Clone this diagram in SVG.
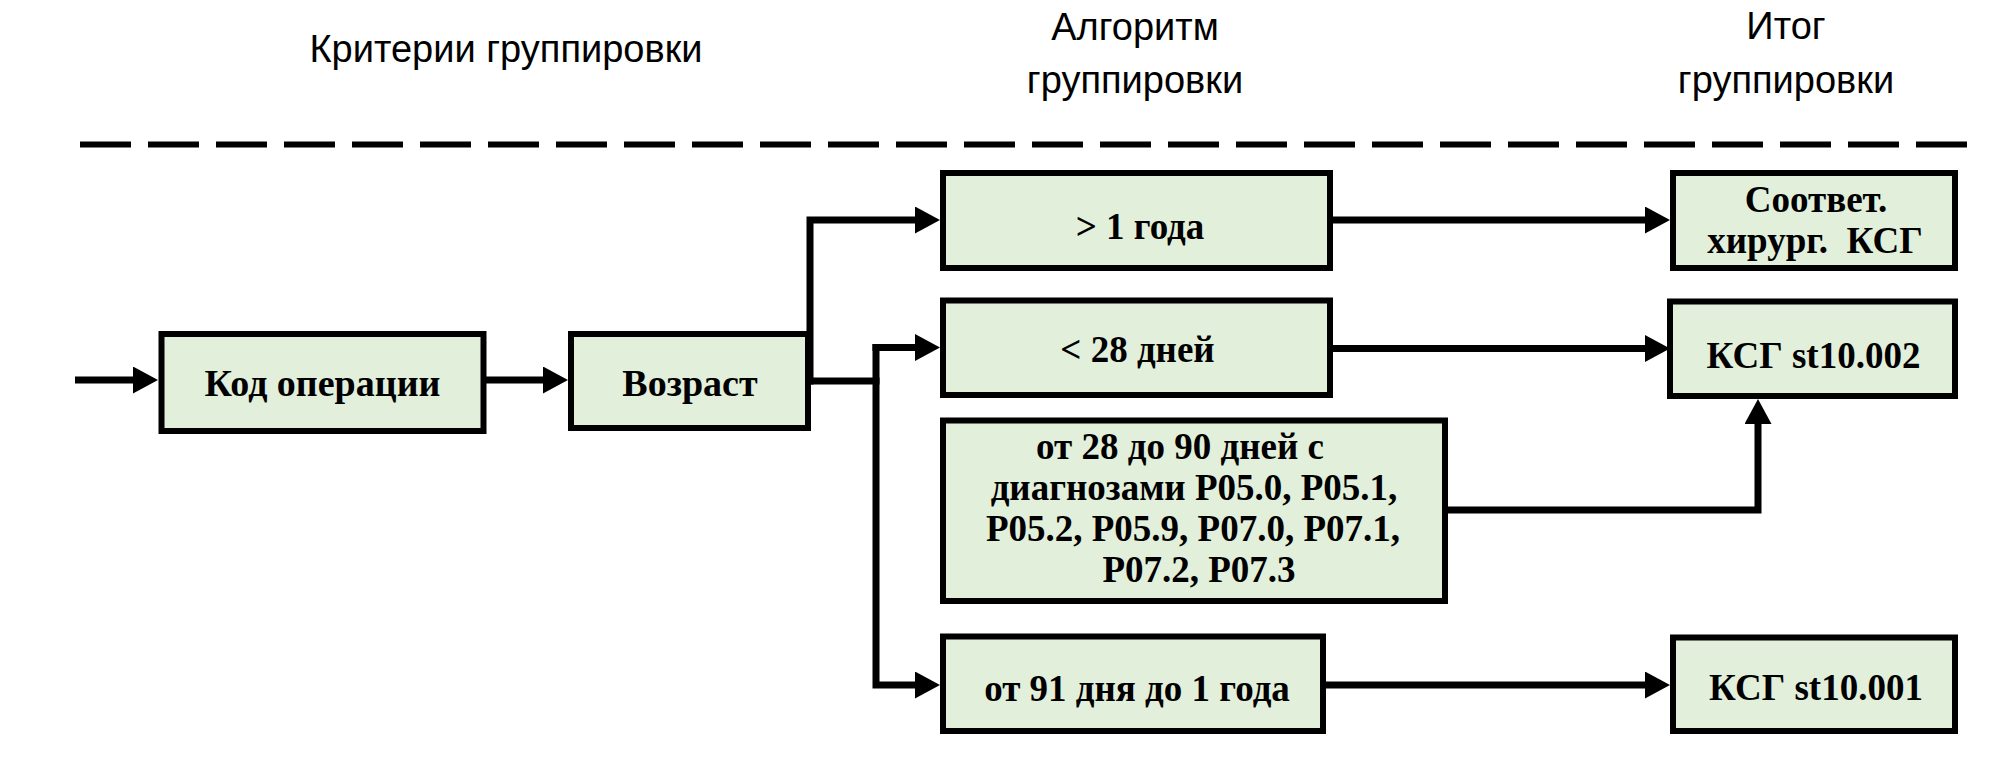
<svg xmlns="http://www.w3.org/2000/svg" width="1992" height="765" viewBox="0 0 1992 765">
<style>
.box{fill:#e2efda;stroke:#000;stroke-width:6}
.t{font-family:"Liberation Serif","Times New Roman",serif;font-weight:bold;font-size:37px;fill:#000;text-anchor:middle}
.h{font-family:"Liberation Sans",Arial,sans-serif;font-size:38px;fill:#000;text-anchor:middle}
.c{fill:none;stroke:#000;stroke-width:7;stroke-linejoin:miter}
</style>
<defs>
<marker id="ah" markerUnits="userSpaceOnUse" viewBox="0 0 25 27" markerWidth="25" markerHeight="27" refX="2" refY="13.5" orient="auto">
<path d="M0,0 L25,13.5 L0,27 z" fill="#000"/>
</marker>
</defs>
<rect width="1992" height="765" fill="#fff"/>
<g id="headers">
<text class="h" x="506" y="62">Критерии группировки</text>
<text class="h" x="1135" y="40">Алгоритм</text>
<text class="h" x="1135" y="93">группировки</text>
<text class="h" x="1786" y="39">Итог</text>
<text class="h" x="1786" y="93">группировки</text>
</g>
<line id="divider" x1="80" y1="144.5" x2="1970" y2="144.5" stroke="#000" stroke-width="6" stroke-dasharray="51 17"/>
<g id="connectors">
<path class="c" d="M75,380 H135" marker-end="url(#ah)"/>
<path class="c" d="M486,380 H545" marker-end="url(#ah)"/>
<path class="c" d="M808,381 H879.5"/>
<path class="c" d="M810,384.5 V220 H917" marker-end="url(#ah)"/>
<path class="c" d="M872.5,347.5 H917" marker-end="url(#ah)"/>
<path class="c" d="M876,344 V685 H917" marker-end="url(#ah)"/>
<path class="c" d="M1333,220 H1647" marker-end="url(#ah)"/>
<path class="c" d="M1333,348.5 H1647" marker-end="url(#ah)"/>
<path class="c" d="M1448,510 H1758 V422" marker-end="url(#ah)"/>
<path class="c" d="M1326,685 H1647" marker-end="url(#ah)"/>
</g>
<g id="n_kod">
<rect class="box" x="161.5" y="334" width="322" height="97"/>
<text class="t" x="322.5" y="396" style="font-size:38px">Код операции</text>
</g>
<g id="n_vozrast">
<rect class="box" x="571" y="334" width="237" height="94"/>
<text class="t" x="690" y="396" style="font-size:38px">Возраст</text>
</g>
<g id="n_gt1">
<rect class="box" x="943" y="173" width="387" height="95"/>
<text class="t" x="1140" y="239">&gt; 1 года</text>
</g>
<g id="n_lt28">
<rect class="box" x="943" y="300.5" width="387" height="94.5"/>
<text class="t" x="1137.5" y="362">&lt; 28 дней</text>
</g>
<g id="n_28_90">
<rect class="box" x="943" y="420.5" width="502" height="180.5"/>
<text class="t" x="1180" y="459">от 28 до 90 дней с</text>
<text class="t" x="1194" y="500">диагнозами P05.0, P05.1,</text>
<text class="t" x="1193" y="541">P05.2, P05.9, P07.0, P07.1,</text>
<text class="t" x="1199" y="582">P07.2, P07.3</text>
</g>
<g id="n_91">
<rect class="box" x="943" y="636.5" width="380" height="94.5"/>
<text class="t" x="1137" y="701">от 91 дня до 1 года</text>
</g>
<g id="n_sootv">
<rect class="box" x="1673" y="173" width="282" height="95"/>
<text class="t" x="1816" y="211.5">Соответ.</text>
<text class="t" x="1815" y="253" xml:space="preserve">хирург.  КСГ</text>
</g>
<g id="n_st002">
<rect class="box" x="1670" y="301.5" width="285" height="94.5"/>
<text class="t" x="1813.5" y="368">КСГ st10.002</text>
</g>
<g id="n_st001">
<rect class="box" x="1673" y="637.5" width="282" height="93.5"/>
<text class="t" x="1816" y="700">КСГ st10.001</text>
</g>
</svg>
